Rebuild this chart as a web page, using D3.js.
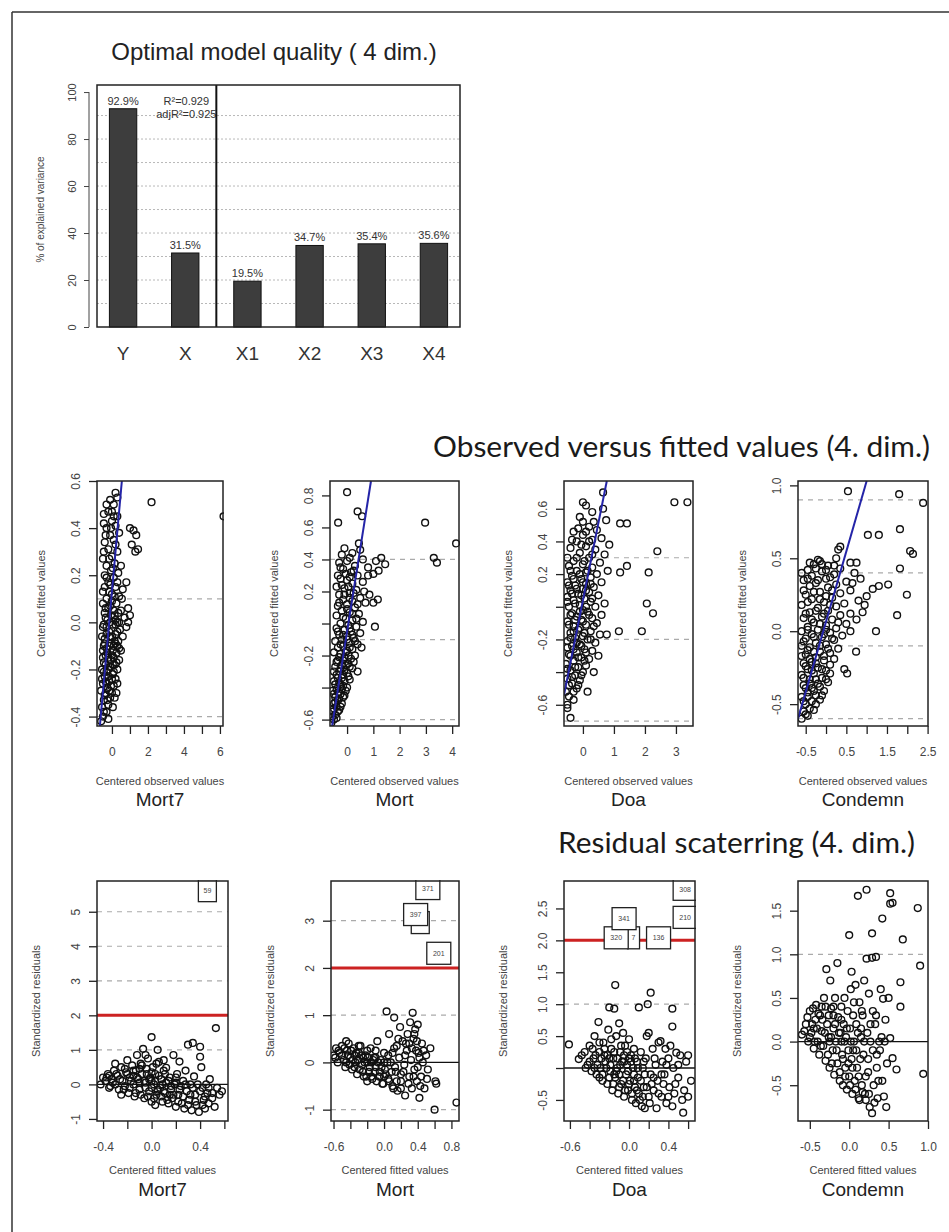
<!DOCTYPE html>
<html>
<head>
<meta charset="utf-8">
<script src="https://cdnjs.cloudflare.com/ajax/libs/d3/7.8.5/d3.min.js"></script>
<style>
body { margin: 0; background: #fff; }
svg { display: block; }
</style>
</head>
<body>
<svg id="chart" width="949" height="1232"></svg>
<script>
// ---- bar chart data
var barNames = ["Y", "X", "X1", "X2", "X3", "X4"];
var barValues = [92.9, 31.5, 19.5, 34.7, 35.4, 35.6];
var barTicks = [0, 20, 40, 60, 80, 100];
var barGrid = [10, 20, 30, 40, 50, 60, 70, 80, 90];
var fitStats = ["R²=0.929", "adjR²=0.925"];

var variables = ["Mort7", "Mort", "Doa", "Condemn"];

// ---- observed (x) versus fitted (y)
var mort7Obs = [[-0.6,-0.42],[-0.5,-0.4],[-0.3,-0.38],[-0.55,-0.36],[-0.2,-0.35],[-0.45,-0.33],[-0.1,-0.32],[-0.35,-0.3],[0.0,-0.3],[-0.6,-0.29],[-0.25,-0.28],[0.1,-0.27],[-0.5,-0.26],[-0.15,-0.25],[0.2,-0.24],[-0.4,-0.23],[0.05,-0.22],[-0.3,-0.21],[0.3,-0.2],[-0.55,-0.2],[-0.1,-0.19],[0.15,-0.18],[-0.45,-0.17],[0.4,-0.16],[-0.2,-0.15],[0.0,-0.14],[0.25,-0.13],[-0.5,-0.12],[0.5,-0.12],[-0.3,-0.11],[0.1,-0.1],[-0.05,-0.09],[0.35,-0.08],[-0.4,-0.07],[0.6,-0.06],[0.2,-0.05],[-0.15,-0.04],[0.45,-0.03],[-0.5,-0.02],[0.05,-0.01],[0.3,0.0],[-0.25,0.01],[0.7,0.02],[0.15,0.03],[-0.4,0.04],[0.5,0.05],[0.9,0.06],[-0.1,0.07],[0.25,0.08],[1.0,0.03],[0.8,-0.02],[-0.3,0.1],[0.4,0.11],[0.0,0.12],[-0.5,0.13],[0.6,0.14],[0.2,0.15],[-0.2,0.17],[0.8,0.17],[0.1,0.19],[-0.4,0.2],[0.35,0.21],[-0.05,0.22],[-0.3,0.24],[0.5,0.24],[0.15,0.25],[-0.5,0.27],[0.0,0.28],[0.3,0.3],[-0.2,0.31],[1.1,0.33],[1.3,0.3],[-0.4,0.34],[0.1,0.35],[-0.1,0.37],[0.4,0.38],[1.0,0.4],[1.2,0.39],[1.35,0.37],[-0.3,0.4],[0.2,0.41],[-0.45,0.42],[0.0,0.43],[0.3,0.45],[-0.2,0.47],[0.1,0.5],[-0.1,0.52],[0.3,0.53],[0.2,0.55],[2.2,0.51],[6.2,0.45],[1.45,0.31],[0.9,0.0],[-0.35,-0.25],[-0.05,-0.27],[0.25,-0.3],[-0.2,-0.2],[0.1,-0.15],[-0.35,-0.14],[0.3,-0.1],[-0.1,-0.06],[0.15,-0.08],[-0.3,-0.02],[0.4,0.0],[-0.05,0.03],[0.2,-0.01],[-0.45,-0.1],[0.55,0.1],[-0.15,0.13],[0.3,0.17],[-0.35,0.06],[0.05,-0.18],[-0.25,-0.33]];
var mort7ObsCore = [[-0.45,-0.38],[-0.2,-0.41],[0.05,-0.36],[-0.4,-0.31],[-0.15,-0.29],[0.15,-0.32],[-0.55,-0.24],[-0.3,-0.26],[0.0,-0.24],[0.3,-0.26],[-0.45,-0.21],[-0.2,-0.23],[0.1,-0.21],[-0.35,-0.18],[-0.05,-0.16],[0.25,-0.17],[-0.5,-0.15],[-0.25,-0.13],[0.05,-0.12],[0.4,-0.11],[-0.4,-0.09],[-0.15,-0.1],[0.2,-0.09],[-0.55,-0.06],[-0.3,-0.05],[0.0,-0.06],[0.3,-0.04],[-0.45,-0.01],[-0.1,0.0],[0.2,0.01],[-0.35,0.02],[0.1,0.05],[0.35,0.04],[-0.5,0.08],[-0.2,0.06],[0.0,0.09],[-0.4,0.15],[-0.1,0.16],[0.15,0.11],[-0.3,0.19],[0.05,0.23],[-0.45,0.3],[-0.15,0.27],[0.2,0.33],[-0.35,0.37],[-0.05,0.4],[0.1,0.45],[-0.3,0.5],[0.0,0.47],[-0.45,0.46]];
var mortObs = [[-0.6,-0.62],[-0.5,-0.6],[-0.45,-0.57],[-0.55,-0.55],[-0.3,-0.54],[-0.4,-0.52],[-0.5,-0.5],[-0.2,-0.5],[-0.35,-0.48],[-0.45,-0.46],[-0.1,-0.45],[-0.25,-0.44],[-0.55,-0.42],[-0.4,-0.41],[0.0,-0.4],[-0.15,-0.39],[-0.3,-0.37],[-0.5,-0.36],[0.1,-0.35],[-0.2,-0.34],[-0.4,-0.32],[0.0,-0.31],[-0.3,-0.3],[-0.1,-0.29],[0.2,-0.28],[-0.45,-0.27],[-0.2,-0.26],[0.05,-0.25],[-0.35,-0.23],[0.15,-0.22],[-0.1,-0.21],[0.3,-0.2],[-0.25,-0.19],[-0.5,-0.18],[0.0,-0.17],[0.2,-0.16],[-0.35,-0.15],[-0.15,-0.14],[0.4,-0.13],[0.1,-0.12],[-0.45,-0.11],[-0.2,-0.1],[0.25,-0.09],[0.0,-0.08],[-0.3,-0.07],[0.5,-0.06],[0.15,-0.05],[-0.1,-0.04],[-0.4,-0.03],[0.35,-0.02],[0.05,-0.01],[-0.25,0.0],[0.6,0.01],[0.2,0.02],[-0.05,0.03],[-0.4,0.05],[0.45,0.06],[0.1,0.07],[-0.2,0.08],[0.3,0.1],[-0.35,0.11],[0.0,0.12],[0.7,0.13],[0.2,0.14],[-0.15,0.15],[0.5,0.16],[-0.3,0.18],[0.1,0.19],[0.85,0.18],[1.0,0.13],[1.17,0.15],[0.35,0.21],[-0.1,0.22],[-0.4,0.23],[0.2,0.25],[0.6,0.26],[0.0,0.27],[-0.25,0.28],[0.4,0.3],[1.0,0.31],[1.2,0.33],[1.45,0.37],[0.15,0.32],[-0.15,0.34],[0.8,0.35],[1.1,0.39],[0.3,0.36],[-0.3,0.38],[0.0,0.39],[0.6,0.4],[1.3,0.41],[-0.2,0.43],[0.2,0.44],[0.5,0.46],[-0.1,0.47],[0.0,0.82],[-0.34,0.63],[2.97,0.63],[3.3,0.41],[3.42,0.38],[4.15,0.5],[1.06,-0.02],[0.57,0.67],[0.45,0.5],[0.4,0.7],[0.8,0.3],[0.65,0.2],[0.55,-0.15],[0.4,-0.3]];
var mortObsCore = [[-0.55,-0.58],[-0.4,-0.59],[-0.35,-0.55],[-0.5,-0.53],[-0.25,-0.52],[-0.45,-0.49],[-0.3,-0.47],[-0.15,-0.46],[-0.5,-0.44],[-0.35,-0.43],[-0.2,-0.41],[-0.05,-0.42],[-0.45,-0.38],[-0.25,-0.38],[-0.1,-0.36],[-0.35,-0.34],[0.05,-0.33],[-0.15,-0.32],[-0.5,-0.3],[-0.25,-0.28],[0.1,-0.27],[-0.05,-0.26],[-0.4,-0.24],[-0.15,-0.23],[0.25,-0.24],[0.05,-0.2],[-0.3,-0.21],[-0.05,-0.18],[0.1,-0.15],[-0.25,-0.13],[0.3,-0.11],[0.0,-0.1],[-0.15,-0.07],[0.2,-0.07],[-0.35,-0.05],[0.1,-0.03],[0.35,0.03],[-0.15,0.04],[0.2,0.06],[0.0,0.09],[-0.3,0.13],[0.4,0.12],[0.1,0.16],[-0.1,0.18],[0.25,0.19],[-0.2,0.24],[0.05,0.23],[-0.35,0.3],[0.1,0.29],[-0.05,0.31],[0.25,0.33],[-0.25,0.35],[0.1,0.41]];
var doaObs = [[-0.4,-0.68],[-0.5,-0.6],[-0.3,-0.57],[-0.55,-0.52],[-0.2,-0.5],[-0.35,-0.47],[-0.1,-0.45],[-0.5,-0.44],[-0.25,-0.42],[0.0,-0.4],[-0.4,-0.39],[-0.15,-0.37],[0.1,-0.36],[-0.55,-0.35],[-0.3,-0.33],[0.2,-0.32],[-0.05,-0.31],[-0.45,-0.29],[-0.2,-0.28],[0.3,-0.27],[0.05,-0.26],[-0.35,-0.24],[-0.1,-0.23],[0.4,-0.22],[-0.5,-0.21],[0.15,-0.2],[-0.25,-0.19],[0.0,-0.18],[0.55,-0.17],[-0.4,-0.16],[0.25,-0.15],[-0.15,-0.14],[0.77,-0.17],[1.16,-0.15],[-0.3,-0.12],[0.1,-0.11],[0.45,-0.1],[-0.5,-0.09],[-0.05,-0.08],[0.3,-0.07],[-0.2,-0.06],[0.6,-0.05],[-0.35,-0.04],[0.15,-0.03],[0.0,-0.02],[-0.45,0.0],[0.4,0.0],[-0.1,0.01],[0.7,0.02],[0.25,0.03],[-0.3,0.04],[0.05,0.05],[-0.5,0.06],[0.5,0.07],[-0.15,0.08],[0.2,0.09],[-0.4,0.1],[0.0,0.11],[0.35,0.12],[-0.25,0.13],[0.1,0.14],[-0.5,0.15],[0.6,0.15],[-0.05,0.17],[0.25,0.18],[-0.35,0.19],[0.45,0.2],[0.1,0.21],[-0.2,0.22],[0.8,0.22],[1.2,0.21],[1.42,0.25],[0.3,0.24],[-0.45,0.25],[0.0,0.26],[0.55,0.27],[-0.3,0.28],[0.2,0.3],[0.7,0.32],[-0.1,0.33],[0.4,0.35],[-0.4,0.36],[0.1,0.37],[0.85,0.38],[-0.2,0.4],[0.3,0.41],[0.6,0.42],[0.0,0.44],[-0.3,0.46],[0.45,0.47],[0.2,0.49],[1.2,0.51],[1.42,0.51],[0.75,0.53],[-0.1,0.55],[0.3,0.58],[0.65,0.6],[0.0,0.64],[0.1,0.62],[0.65,0.7],[2.95,0.64],[3.37,0.64],[2.4,0.34],[2.12,0.21],[2.06,0.02],[2.26,-0.04],[1.9,-0.15],[0.5,-0.3],[0.35,-0.4],[0.15,-0.52],[-0.5,-0.62]];
var doaObsCore = [[-0.45,-0.55],[-0.3,-0.52],[-0.45,-0.48],[-0.15,-0.48],[-0.35,-0.43],[-0.05,-0.42],[-0.5,-0.38],[-0.25,-0.37],[0.05,-0.33],[-0.4,-0.3],[-0.15,-0.31],[-0.3,-0.26],[0.1,-0.28],[-0.5,-0.25],[-0.05,-0.24],[-0.2,-0.22],[0.25,-0.2],[-0.4,-0.19],[0.05,-0.16],[-0.3,-0.15],[-0.1,-0.13],[0.35,-0.12],[-0.45,-0.11],[0.0,-0.09],[-0.25,-0.08],[0.2,-0.05],[-0.4,-0.05],[-0.1,-0.03],[0.1,0.0],[-0.25,0.02],[-0.5,0.03],[0.3,0.05],[-0.05,0.07],[-0.35,0.08],[0.1,0.1],[-0.2,0.11],[-0.45,0.13],[0.0,0.15],[0.25,0.14],[-0.3,0.17],[-0.1,0.2],[0.15,0.22],[-0.4,0.22],[0.05,0.28],[-0.2,0.3],[0.3,0.32],[-0.5,0.3],[-0.05,0.38],[0.2,0.4],[-0.35,0.41],[0.1,0.46],[-0.15,0.48],[0.35,0.52],[0.0,0.52]];
var condemnObs = [[-0.6,-0.6],[-0.45,-0.58],[-0.55,-0.55],[-0.3,-0.54],[-0.5,-0.5],[-0.35,-0.48],[-0.15,-0.47],[-0.6,-0.45],[-0.25,-0.44],[-0.45,-0.42],[-0.05,-0.41],[-0.35,-0.39],[-0.55,-0.37],[-0.2,-0.36],[0.05,-0.35],[-0.4,-0.33],[-0.1,-0.32],[-0.6,-0.3],[-0.3,-0.29],[0.1,-0.29],[0.0,-0.27],[-0.45,-0.26],[-0.2,-0.25],[0.52,-0.29],[0.45,-0.26],[-0.55,-0.22],[-0.35,-0.21],[-0.05,-0.2],[0.2,-0.19],[-0.25,-0.18],[-0.5,-0.16],[0.1,-0.15],[-0.15,-0.14],[0.74,-0.14],[0.3,-0.12],[-0.4,-0.11],[-0.6,-0.1],[0.0,-0.09],[-0.25,-0.08],[0.2,-0.06],[-0.5,-0.05],[-0.1,-0.04],[0.4,-0.03],[-0.35,-0.02],[0.1,-0.01],[-0.6,0.0],[0.6,0.0],[-0.2,0.01],[1.23,0.0],[0.25,0.02],[-0.45,0.03],[0.0,0.04],[0.5,0.05],[-0.3,0.06],[0.75,0.08],[0.15,0.08],[-0.55,0.09],[-0.1,0.1],[0.35,0.11],[0.6,0.12],[-0.4,0.13],[0.05,0.14],[0.9,0.13],[-0.2,0.16],[0.25,0.17],[-0.6,0.18],[0.45,0.19],[-0.05,0.2],[0.8,0.21],[-0.35,0.22],[0.15,0.23],[1.0,0.24],[-0.5,0.25],[0.35,0.26],[-0.15,0.27],[0.6,0.28],[1.15,0.29],[0.05,0.3],[-0.4,0.31],[1.3,0.31],[0.25,0.32],[-0.25,0.33],[0.5,0.34],[-0.55,0.35],[0.0,0.36],[0.85,0.36],[-0.35,0.38],[0.2,0.39],[0.7,0.4],[-0.1,0.41],[-0.45,0.42],[0.35,0.43],[0.05,0.45],[-0.3,0.46],[0.6,0.47],[0.75,0.47],[-0.15,0.48],[0.25,0.5],[0.3,0.56],[0.35,0.58],[1.03,0.66],[1.3,0.66],[0.54,0.96],[1.8,0.94],[2.39,0.88],[1.82,0.7],[2.07,0.55],[2.14,0.53],[1.82,0.43],[1.99,0.25],[1.53,0.32],[1.75,0.11],[0.95,0.18],[0.65,0.33]];
var condemnObsCore = [[-0.5,-0.57],[-0.4,-0.53],[-0.55,-0.48],[-0.25,-0.5],[-0.45,-0.45],[-0.1,-0.44],[-0.3,-0.41],[-0.5,-0.39],[-0.15,-0.38],[-0.4,-0.36],[0.0,-0.33],[-0.25,-0.33],[-0.55,-0.32],[-0.35,-0.27],[-0.1,-0.26],[-0.5,-0.24],[0.1,-0.23],[-0.25,-0.22],[-0.4,-0.19],[-0.05,-0.17],[-0.6,-0.17],[0.05,-0.12],[-0.3,-0.14],[-0.45,-0.13],[-0.15,-0.1],[-0.55,-0.07],[0.15,-0.05],[-0.3,-0.04],[-0.05,-0.02],[-0.45,0.01],[0.0,0.01],[-0.15,0.05],[-0.35,0.08],[0.3,0.06],[-0.05,0.12],[-0.5,0.12],[-0.25,0.14],[0.1,0.18],[-0.45,0.2],[-0.15,0.22],[-0.55,0.28],[0.0,0.24],[-0.3,0.27],[0.15,0.28],[-0.2,0.35],[-0.45,0.36],[0.1,0.37],[-0.6,0.4],[-0.25,0.43],[0.0,0.42],[-0.4,0.47],[-0.1,0.46],[0.2,0.45],[-0.2,0.49]];

// fitted regression lines, two end points each
var mort7Fit = [[-0.67, -0.44], [0.55, 0.6]];
var mortFit = [[-0.57, -0.64], [0.91, 0.89]];
var doaFit = [[-0.61, -0.54], [0.77, 0.77]];
var condemnFit = [[-0.69, -0.6], [1.0, 1.03]];

// ---- fitted (x) versus standardized residuals (y)
var mort7Res = [[-0.42,0.0],[-0.4,0.2],[-0.38,0.1],[-0.36,0.3],[-0.35,-0.1],[-0.33,0.15],[-0.31,0.4],[-0.3,0.0],[-0.28,0.25],[-0.27,-0.15],[-0.25,0.5],[-0.24,0.1],[-0.22,-0.05],[-0.21,0.35],[-0.2,0.7],[-0.19,-0.25],[-0.18,0.2],[-0.16,0.55],[-0.15,0.0],[-0.14,-0.35],[-0.13,0.4],[-0.12,0.85],[-0.11,0.15],[-0.1,-0.15],[-0.09,0.6],[-0.08,0.3],[-0.07,1.03],[-0.06,-0.4],[-0.05,0.05],[-0.04,0.45],[-0.03,0.75],[-0.02,-0.2],[-0.01,0.2],[0.0,1.37],[0.0,-0.5],[0.01,0.5],[0.02,0.0],[0.03,0.3],[0.04,-0.3],[0.05,1.0],[0.06,0.65],[0.07,-0.1],[0.08,0.15],[0.09,-0.5],[0.1,0.4],[0.11,-0.25],[0.12,0.05],[0.12,0.48],[0.14,-0.55],[0.15,0.2],[0.16,-0.15],[0.17,-0.4],[0.18,0.85],[0.19,0.0],[0.2,-0.65],[0.21,0.3],[0.22,-0.3],[0.23,0.66],[0.24,-0.05],[0.25,-0.55],[0.26,0.1],[0.27,-0.7],[0.28,0.4],[0.29,-0.2],[0.3,1.15],[0.31,-0.45],[0.32,0.0],[0.33,-0.75],[0.34,1.2],[0.35,0.23],[0.36,-0.3],[0.37,-0.6],[0.38,0.0],[0.39,-0.8],[0.4,1.09],[0.4,0.8],[0.41,0.5],[0.42,-0.1],[0.43,-0.45],[0.44,-0.7],[0.45,0.0],[0.46,-0.25],[0.47,-0.55],[0.48,0.15],[0.5,-0.4],[0.52,-0.65],[0.53,1.63],[0.54,-0.1],[0.56,-0.3],[0.58,-0.2],[-0.3,0.6],[-0.05,0.85],[-0.25,-0.3],[0.1,0.7],[0.03,-0.6],[-0.15,0.25],[-0.35,0.25],[0.0,0.1],[-0.1,0.45],[0.05,-0.2],[0.2,0.2],[0.15,-0.3]];
var mort7ResCore = [[-0.32,0.05],[-0.29,0.3],[-0.26,0.15],[-0.23,-0.15],[-0.22,0.45],[-0.2,0.3],[-0.18,-0.1],[-0.17,0.1],[-0.15,0.4],[-0.13,-0.25],[-0.12,0.2],[-0.1,0.05],[-0.09,-0.3],[-0.08,0.55],[-0.06,0.1],[-0.05,-0.1],[-0.04,0.3],[-0.03,-0.35],[-0.02,0.15],[0.0,-0.1],[0.0,0.35],[0.02,-0.4],[0.03,0.1],[0.04,0.6],[0.05,-0.15],[0.06,0.25],[0.08,-0.35],[0.09,0.0],[0.1,-0.2],[0.11,0.3],[0.13,-0.45],[0.14,0.1],[0.16,-0.05],[0.18,-0.3],[0.2,0.05],[0.22,-0.5],[0.23,-0.15],[0.26,-0.35],[0.28,0.0],[0.3,-0.6],[0.32,-0.3],[0.34,-0.1],[0.36,-0.5],[0.4,-0.2],[0.42,-0.6],[0.44,-0.35],[0.47,-0.1],[0.5,-0.25],[-0.37,0.2],[-0.34,-0.05]];
var mortRes = [[-0.6,0.15],[-0.57,0.3],[-0.55,0.0],[-0.53,0.2],[-0.5,0.35],[-0.48,0.05],[-0.46,-0.1],[-0.44,0.25],[-0.42,0.4],[-0.4,0.1],[-0.38,-0.15],[-0.36,0.3],[-0.34,0.0],[-0.32,-0.25],[-0.3,0.2],[-0.28,0.35],[-0.26,-0.05],[-0.24,-0.3],[-0.22,0.15],[-0.2,0.0],[-0.18,-0.2],[-0.16,0.3],[-0.14,-0.35],[-0.12,0.1],[-0.1,-0.1],[-0.08,0.45],[-0.06,-0.3],[-0.04,0.05],[-0.02,-0.45],[0.0,0.2],[0.01,-0.15],[0.03,1.08],[0.05,-0.35],[0.06,0.6],[0.08,0.0],[0.1,-0.5],[0.12,0.95],[0.12,0.3],[0.14,-0.2],[0.16,-0.6],[0.18,0.1],[0.19,0.75],[0.2,-0.4],[0.22,0.45],[0.24,-0.05],[0.25,-0.7],[0.27,0.25],[0.28,0.6],[0.3,-0.3],[0.31,0.85],[0.32,0.05],[0.33,-0.55],[0.34,1.05],[0.35,0.5],[0.36,-0.15],[0.37,0.7],[0.38,0.25],[0.39,-0.4],[0.4,0.8],[0.42,-0.75],[0.42,0.1],[0.44,-0.3],[0.45,0.4],[0.46,0.0],[0.48,-0.55],[0.5,0.15],[0.52,-0.15],[0.55,0.3],[0.6,-1.0],[0.61,-0.4],[0.62,-0.45],[0.86,-0.85],[-0.45,0.45],[-0.35,0.15],[-0.25,0.1],[-0.15,0.0],[-0.05,-0.2],[0.05,0.15],[0.15,0.35],[0.25,0.15],[0.35,-0.3],[0.2,-0.25],[0.1,0.2],[0.0,-0.3],[-0.1,0.25],[-0.2,-0.4],[0.3,0.4],[0.4,-0.1]];
var mortResCore = [[-0.58,0.1],[-0.54,0.25],[-0.5,0.15],[-0.47,0.3],[-0.45,0.0],[-0.43,0.15],[-0.41,-0.05],[-0.39,0.25],[-0.37,0.05],[-0.35,-0.1],[-0.33,0.2],[-0.31,0.05],[-0.29,-0.15],[-0.27,0.15],[-0.25,-0.2],[-0.23,0.0],[-0.21,-0.3],[-0.19,0.1],[-0.17,-0.1],[-0.15,-0.3],[-0.13,0.05],[-0.11,-0.2],[-0.09,-0.4],[-0.07,0.0],[-0.05,-0.3],[-0.03,-0.1],[-0.01,-0.45],[0.02,-0.25],[0.04,0.0],[0.06,-0.4],[0.09,-0.2],[0.11,-0.55],[0.13,-0.1],[0.15,-0.4],[0.17,0.5],[0.2,-0.55],[0.23,-0.2],[0.26,0.4],[0.29,-0.45],[0.33,0.3],[0.36,0.6],[0.39,0.45],[0.41,0.2],[0.43,-0.5],[0.47,0.25],[0.51,-0.35],[-0.3,0.35],[-0.2,0.25],[-0.1,0.1],[0.0,0.0]];
var doaRes = [[-0.61,0.37],[-0.51,0.14],[-0.45,0.25],[-0.42,0.05],[-0.4,0.35],[-0.38,-0.05],[-0.36,0.15],[-0.35,0.5],[-0.33,-0.1],[-0.31,0.72],[-0.3,0.25],[-0.29,0.0],[-0.27,-0.2],[-0.26,0.4],[-0.24,0.1],[-0.22,-0.25],[-0.21,0.6],[-0.2,0.95],[-0.19,-0.05],[-0.18,0.3],[-0.17,-0.35],[-0.16,0.15],[-0.15,0.93],[-0.14,1.3],[-0.14,-0.15],[-0.13,0.5],[-0.12,0.0],[-0.11,-0.4],[-0.1,0.7],[-0.09,0.25],[-0.08,-0.25],[-0.07,0.1],[-0.06,0.55],[-0.05,-0.45],[-0.04,0.35],[-0.03,-0.1],[-0.02,0.05],[-0.01,-0.35],[0.0,0.45],[0.01,-0.2],[0.02,0.2],[0.03,-0.5],[0.04,0.0],[0.05,0.3],[0.06,-0.3],[0.07,-0.55],[0.08,0.1],[0.09,-0.15],[0.1,0.95],[0.1,-0.4],[0.12,0.25],[0.13,-0.6],[0.14,0.0],[0.15,-0.3],[0.16,-0.63],[0.17,0.15],[0.18,0.5],[0.19,1.0],[0.2,-0.45],[0.2,0.55],[0.22,1.18],[0.22,-0.1],[0.24,0.3],[0.25,-0.35],[0.27,0.05],[0.28,-0.63],[0.29,-0.2],[0.3,0.4],[0.32,0.42],[0.33,-0.45],[0.34,0.1],[0.36,-0.1],[0.37,0.3],[0.38,-0.55],[0.4,0.15],[0.41,-0.3],[0.42,0.35],[0.44,0.93],[0.44,0.65],[0.44,-0.6],[0.45,0.0],[0.46,-0.4],[0.48,0.24],[0.5,-0.15],[0.52,0.2],[0.55,-0.7],[0.56,-0.35],[0.58,0.1],[0.6,-0.45],[0.63,-0.2],[-0.3,-0.15],[-0.2,0.15],[-0.1,-0.1],[0.0,0.15],[-0.25,0.2],[-0.15,-0.1],[-0.05,0.2],[0.05,-0.1],[0.15,0.1],[0.25,-0.15],[0.35,-0.25],[-0.35,0.0]];
var doaResCore = [[-0.34,0.2],[-0.32,0.05],[-0.3,0.4],[-0.28,0.15],[-0.27,-0.1],[-0.25,0.3],[-0.23,0.0],[-0.22,0.2],[-0.2,-0.15],[-0.19,0.05],[-0.18,0.45],[-0.16,-0.25],[-0.15,0.25],[-0.13,-0.05],[-0.12,0.15],[-0.1,-0.3],[-0.09,0.05],[-0.08,0.35],[-0.06,-0.2],[-0.05,0.1],[-0.04,-0.35],[-0.02,0.25],[-0.01,-0.05],[0.0,-0.25],[0.02,0.1],[0.03,-0.4],[0.05,-0.2],[0.06,0.15],[0.08,-0.35],[0.09,0.0],[0.11,-0.5],[0.12,-0.2],[0.14,-0.45],[0.16,-0.1],[0.18,-0.3],[0.21,-0.55],[0.23,-0.25],[0.26,0.15],[0.3,-0.4],[0.33,-0.1],[0.38,0.05],[0.4,-0.45],[0.47,-0.25],[0.5,0.05],[0.54,-0.5],[-0.4,0.1],[-0.37,0.3],[-0.44,0.0],[-0.48,0.2],[0.6,0.2]];
var condemnRes = [[-0.6,0.08],[-0.55,0.2],[-0.52,0.0],[-0.5,0.35],[-0.48,0.1],[-0.45,-0.08],[-0.43,0.25],[-0.42,0.42],[-0.4,0.0],[-0.38,-0.15],[-0.37,0.3],[-0.35,0.12],[-0.33,-0.05],[-0.32,0.5],[-0.3,-0.22],[-0.29,0.83],[-0.28,0.2],[-0.26,0.05],[-0.25,-0.3],[-0.24,0.7],[-0.23,0.38],[-0.21,-0.1],[-0.2,0.15],[-0.19,-0.38],[-0.18,0.5],[-0.17,0.0],[-0.15,0.9],[-0.15,-0.25],[-0.14,0.28],[-0.12,-0.45],[-0.11,0.1],[-0.1,0.4],[-0.09,-0.15],[-0.08,-0.5],[-0.07,0.2],[-0.06,0.5],[-0.05,-0.3],[-0.04,0.05],[-0.03,-0.55],[-0.02,0.35],[-0.01,-0.1],[0.0,1.22],[0.0,-0.4],[0.01,0.15],[0.02,0.6],[0.03,0.8],[0.03,-0.2],[0.04,-0.6],[0.05,0.3],[0.06,0.0],[0.07,-0.45],[0.08,0.65],[0.09,0.2],[0.1,-0.3],[0.11,1.67],[0.12,-0.65],[0.13,0.45],[0.13,-0.67],[0.15,0.05],[0.16,-0.5],[0.17,0.3],[0.18,-0.15],[0.19,0.7],[0.2,-0.6],[0.21,-0.67],[0.22,1.74],[0.22,0.95],[0.23,0.1],[0.24,-0.35],[0.25,0.55],[0.26,-0.75],[0.27,0.0],[0.29,1.24],[0.29,0.96],[0.29,-0.82],[0.3,0.35],[0.31,-0.5],[0.33,0.2],[0.34,0.97],[0.35,-0.3],[0.36,-0.65],[0.38,0.0],[0.4,0.6],[0.41,0.05],[0.42,1.41],[0.42,-0.45],[0.43,0.49],[0.44,-0.63],[0.46,0.25],[0.48,-0.25],[0.5,0.5],[0.52,1.7],[0.52,1.58],[0.55,1.59],[0.52,0.04],[0.55,-0.19],[0.6,-0.32],[0.65,0.68],[0.65,0.4],[0.68,1.17],[0.87,1.53],[0.9,0.87],[0.94,-0.37],[-0.25,0.0],[-0.35,0.4],[-0.1,0.0],[0.05,-0.1],[-0.2,0.3],[0.15,0.15],[0.35,-0.15],[-0.45,0.15]];
var condemnResCore = [[-0.57,0.12],[-0.53,0.28],[-0.5,0.05],[-0.47,0.2],[-0.46,0.38],[-0.44,0.0],[-0.41,0.15],[-0.39,0.32],[-0.36,-0.05],[-0.34,0.25],[-0.31,0.1],[-0.3,0.4],[-0.27,-0.15],[-0.26,0.3],[-0.23,0.05],[-0.22,-0.25],[-0.2,0.4],[-0.18,0.2],[-0.16,-0.1],[-0.13,0.1],[-0.12,-0.35],[-0.1,0.25],[-0.08,-0.2],[-0.06,0.0],[-0.05,-0.4],[-0.03,0.15],[-0.01,-0.25],[0.01,-0.5],[0.02,0.0],[0.04,-0.3],[0.06,0.45],[0.08,-0.55],[0.09,-0.1],[0.11,0.1],[0.12,-0.4],[0.14,-0.2],[0.16,0.35],[0.17,-0.58],[0.19,0.0],[0.21,-0.4],[0.24,-0.2],[0.25,-0.6],[0.27,0.2],[0.3,-0.1],[0.32,-0.7],[0.34,0.3],[0.37,-0.45],[0.39,-0.1],[0.45,0.0],[0.47,-0.75]];

// outlier labels: text, x, y (centre of box)
var mort7Outliers = [["59", 0.46, 5.61]];
var mortOutliers = [["371", 0.52, 3.68], ["98", 0.43, 2.96], ["397", 0.375, 3.13], ["201", 0.65, 2.31]];
var doaOutliers = [["308", 0.57, 2.8], ["210", 0.57, 2.36], ["136", 0.3, 2.04], ["7", 0.046, 2.04], ["320", -0.13, 2.04], ["341", -0.05, 2.34]];
var condemnOutliers = [];

// axis domains
var obsXDomains = [[-0.83, 6.17], [-0.65, 4.26], [-0.61, 3.55], [-0.69, 2.51]];
var obsYDomains = [[-0.44, 0.6], [-0.64, 0.89], [-0.73, 0.77], [-0.65, 1.03]];
var resXDomains = [[-0.45, 0.63], [-0.63, 0.89], [-0.66, 0.67], [-0.65, 1.0]];
var resYDomains = [[-1.06, 5.89], [-1.24, 3.84], [-0.83, 2.93], [-0.91, 1.84]];

// ticks and their labels ("" = tick without label)
var obsXTicks = [[0,1,2,3,4,5,6], [0,1,2,3,4], [0,1,2,3], [-0.5,0,0.5,1,1.5,2,2.5]];
var obsXLabels = [["0","","2","","4","","6"], ["0","1","2","3","4"], ["0","1","2","3"], ["-0.5","","0.5","","1.5","","2.5"]];
var obsYTicks = [[-0.4,-0.2,0,0.2,0.4,0.6], [-0.6,-0.4,-0.2,0,0.2,0.4,0.6,0.8], [-0.6,-0.4,-0.2,0,0.2,0.4,0.6], [-0.5,0,0.5,1.0]];
var obsYLabels = [["-0.4","-0.2","0.0","0.2","0.4","0.6"], ["-0.6","","-0.2","","0.2","0.4","0.6","0.8"], ["-0.6","","-0.2","","0.2","0.4","0.6"], ["-0.5","0.0","0.5","1.0"]];
var resXTicks = [[-0.4,-0.2,0,0.2,0.4,0.6], [-0.6,-0.4,-0.2,0,0.2,0.4,0.6,0.8], [-0.6,-0.4,-0.2,0,0.2,0.4,0.6], [-0.5,0,0.5,1.0]];
var resXLabels = [["-0.4","","0.0","","0.4",""], ["-0.6","","","0.0","","0.4","","0.8"], ["-0.6","","","0.0","","0.4",""], ["-0.5","0.0","0.5","1.0"]];
var resYTicks = [[-1,0,1,2,3,4,5], [-1,0,1,2,3], [-0.5,0,0.5,1.0,1.5,2.0,2.5], [-0.5,0,0.5,1.0,1.5]];
var resYLabels = [["-1","0","1","2","3","4","5"], ["-1","0","1","2","3"], ["-0.5","","0.5","1.0","1.5","2.0","2.5"], ["-0.5","0.0","0.5","1.0","1.5"]];

// reference lines
var obsDashes = [[0.1, -0.4], [0.4, -0.1, -0.6], [0.3, -0.2, -0.7], [0.9, 0.4, -0.1, -0.6]];
var resDashes = [[5, 4, 3, 1], [3, 1, -1], [1.0], [1.0]];
var residualLimit = 2;

var svg = d3.select("#chart");
var rFont = "'Liberation Sans', Arial, sans-serif";

// outer frame
svg.append("line").attr("x1", 12).attr("y1", 12).attr("x2", 949).attr("y2", 12)
   .attr("stroke", "#333").attr("stroke-width", 1.5);
svg.append("line").attr("x1", 12).attr("y1", 12).attr("x2", 12).attr("y2", 1232)
   .attr("stroke", "#333").attr("stroke-width", 1.5);

// ================= bar chart
function barChart()
{
    var left = 97, right = 460, top = 85, bottom = 327;
    var x = d3.scaleBand().domain(barNames).range([92, 465]).paddingInner(0.56).paddingOuter(0.28);
    var y = d3.scaleLinear().domain([0, 103]).range([bottom, top]);
    var g = svg.append("g");

    g.append("text")
     .attr("x", 274).attr("y", 60)
     .attr("text-anchor", "middle")
     .attr("font-family", rFont).attr("font-size", "24px").attr("fill", "#222")
     .text("Optimal model quality ( 4 dim.)");

    g.selectAll(".grid")
     .data(barGrid)
     .enter().append("line")
     .attr("x1", left).attr("x2", right)
     .attr("y1", function(d) { return y(d); })
     .attr("y2", function(d) { return y(d); })
     .attr("stroke", "#b8b8b8").attr("stroke-dasharray", "2,2");

    g.selectAll(".bar")
     .data(barValues)
     .enter().append("rect")
     .attr("x", function(d, i) { return x(barNames[i]); })
     .attr("y", function(d) { return y(d); })
     .attr("width", x.bandwidth())
     .attr("height", function(d) { return y(0) - y(d); })
     .attr("fill", "#3d3d3d").attr("stroke", "#111");

    g.selectAll(".val")
     .data(barValues)
     .enter().append("text")
     .attr("x", function(d, i) { return x(barNames[i]) + x.bandwidth() / 2; })
     .attr("y", function(d) { return y(d) - 4; })
     .attr("text-anchor", "middle")
     .attr("font-family", rFont).attr("font-size", "11px").attr("fill", "#333")
     .text(function(d) { return d.toFixed(1) + "%"; });

    var sep = (x("X") + x.bandwidth() + x("X1")) / 2;

    g.selectAll(".stat")
     .data(fitStats)
     .enter().append("text")
     .attr("x", sep - 30)
     .attr("y", function(d, i) { return 105 + i * 13; })
     .attr("text-anchor", "middle")
     .attr("font-family", rFont).attr("font-size", "11px").attr("fill", "#333")
     .text(function(d) { return d; });

    g.append("line").attr("x1", sep).attr("x2", sep).attr("y1", top).attr("y2", bottom)
     .attr("stroke", "#111").attr("stroke-width", 2);
    g.append("rect").attr("x", left).attr("y", top)
     .attr("width", right - left).attr("height", bottom - top)
     .attr("fill", "none").attr("stroke", "#222").attr("stroke-width", 1.5);

    var ax = g.append("g")
              .attr("transform", "translate(89,0)")
              .call(d3.axisLeft(y).tickValues(barTicks).tickSize(5).tickFormat(d3.format("d")));
    ax.select(".domain").remove();
    ax.selectAll("line").attr("stroke", "#444");
    ax.selectAll("text")
      .attr("transform", "rotate(-90)")
      .attr("x", 0).attr("y", -13).attr("dy", 0)
      .attr("text-anchor", "middle")
      .attr("font-family", rFont).attr("font-size", "11px").attr("fill", "#444");
    g.append("line").attr("x1", 89).attr("x2", 89).attr("y1", y(0)).attr("y2", y(100))
     .attr("stroke", "#444");

    g.append("text")
     .attr("transform", "translate(44," + (y(0) + y(100)) / 2 + ") rotate(-90)")
     .attr("text-anchor", "middle")
     .attr("font-family", rFont).attr("font-size", "10px").attr("fill", "#444")
     .text("% of explained variance");

    g.selectAll(".cat")
     .data(barNames)
     .enter().append("text")
     .attr("x", function(d) { return x(d) + x.bandwidth() / 2; })
     .attr("y", 360)
     .attr("text-anchor", "middle")
     .attr("font-family", rFont).attr("font-size", "19px").attr("fill", "#333")
     .text(function(d) { return d; });
}

// ================= scatter panels
function drawPanel(p)
{
    var x = d3.scaleLinear().domain(p.xDomain).range([p.left, p.right]);
    var y = d3.scaleLinear().domain(p.yDomain).range([p.bottom, p.top]);
    var g = svg.append("g");

    g.append("clipPath").attr("id", p.id)
     .append("rect")
     .attr("x", p.left).attr("y", p.top - 1)
     .attr("width", p.right - p.left + 1).attr("height", p.bottom - p.top + 1);
    var inner = g.append("g").attr("clip-path", "url(#" + p.id + ")");

    inner.selectAll(".dash")
         .data(p.dashes)
         .enter().append("line")
         .attr("x1", p.left).attr("x2", p.right)
         .attr("y1", function(d) { return y(d); })
         .attr("y2", function(d) { return y(d); })
         .attr("stroke", "#aaa").attr("stroke-width", 1.2).attr("stroke-dasharray", "5,5");

    if (p.zero)
    {
        inner.append("line").attr("x1", p.left).attr("x2", p.right)
             .attr("y1", y(0)).attr("y2", y(0))
             .attr("stroke", "#111").attr("stroke-width", 1.3);
    }

    inner.selectAll("circle")
         .data(p.points)
         .enter().append("circle")
         .attr("cx", function(d) { return x(d[0]); })
         .attr("cy", function(d) { return y(d[1]); })
         .attr("r", 3.4)
         .attr("fill", "none").attr("stroke", "#111").attr("stroke-width", 1.4);

    if (p.fit)
    {
        inner.append("line")
             .attr("x1", x(p.fit[0][0])).attr("y1", y(p.fit[0][1]))
             .attr("x2", x(p.fit[1][0])).attr("y2", y(p.fit[1][1]))
             .attr("stroke", "#2424a8").attr("stroke-width", 2);
    }

    if (p.limit != null && p.limit < p.yDomain[1])
    {
        inner.append("line").attr("x1", p.left).attr("x2", p.right)
             .attr("y1", y(p.limit)).attr("y2", y(p.limit))
             .attr("stroke", "#cc2222").attr("stroke-width", 3);
    }

    g.append("rect").attr("x", p.left).attr("y", p.top)
     .attr("width", p.right - p.left).attr("height", p.bottom - p.top)
     .attr("fill", "none").attr("stroke", "#222").attr("stroke-width", 1.5);

    // outlier labels drawn over the frame
    var lab = inner.selectAll(".lab")
                   .data(p.labels)
                   .enter().append("g")
                   .attr("transform", function(d) { return "translate(" + x(d[1]) + "," + y(d[2]) + ")"; });
    lab.append("rect")
       .attr("x", function(d) { return -(6 + d[0].length * 6) / 2; })
       .attr("y", -11)
       .attr("width", function(d) { return 6 + d[0].length * 6; })
       .attr("height", 22)
       .attr("fill", "#fff").attr("stroke", "#222").attr("stroke-width", 1.3);
    lab.append("text")
       .attr("text-anchor", "middle").attr("dy", "0.35em")
       .attr("font-family", rFont).attr("font-size", "7px").attr("fill", "#444")
       .text(function(d) { return d[0]; });

    var xa = g.append("g")
              .attr("transform", "translate(0," + p.bottom + ")")
              .call(d3.axisBottom(x).tickValues(p.xTicks).tickSize(8)
                      .tickFormat(function(d, i) { return p.xLabels[i]; }));
    xa.select(".domain").remove();
    xa.selectAll("line").attr("stroke", "#222").attr("stroke-width", 1.3);
    xa.selectAll("text")
      .attr("y", 26).attr("dy", "0.35em")
      .attr("font-family", rFont).attr("font-size", "12px").attr("fill", "#444");

    var ya = g.append("g")
              .attr("transform", "translate(" + p.left + ",0)")
              .call(d3.axisLeft(y).tickValues(p.yTicks).tickSize(8)
                      .tickFormat(function(d, i) { return p.yLabels[i]; }));
    ya.select(".domain").remove();
    ya.selectAll("line").attr("stroke", "#222").attr("stroke-width", 1.3);
    ya.selectAll("text")
      .attr("transform", "rotate(-90)")
      .attr("x", 0).attr("y", -17).attr("dy", 0)
      .attr("text-anchor", "middle")
      .attr("font-family", rFont).attr("font-size", "12px").attr("fill", "#444");

    var cx = (p.left + p.right) / 2;
    g.append("text")
     .attr("x", cx).attr("y", p.bottom + p.xTitleGap)
     .attr("text-anchor", "middle")
     .attr("font-family", rFont).attr("font-size", "11px").attr("fill", "#444")
     .text(p.xTitle);
    g.append("text")
     .attr("x", cx).attr("y", p.bottom + p.nameGap)
     .attr("text-anchor", "middle")
     .attr("font-family", rFont).attr("font-size", "19px").attr("fill", "#222")
     .text(p.name);
    g.append("text")
     .attr("transform", "translate(" + (p.left - p.yTitleGap) + "," + (p.top + p.bottom) / 2 + ") rotate(-90)")
     .attr("text-anchor", "middle")
     .attr("font-family", rFont).attr("font-size", "11px").attr("fill", "#444")
     .text(p.yTitle);
}

barChart();

// section titles
svg.append("text")
   .attr("x", 433).attr("y", 457)
   .attr("font-family", "Lato, 'Open Sans', sans-serif").attr("font-size", "28px").attr("fill", "#1a1a1a")
   .attr("textLength", 497).attr("lengthAdjust", "spacingAndGlyphs")
   .text("Observed versus fitted values (4. dim.)");
svg.append("text")
   .attr("x", 558).attr("y", 853)
   .attr("font-family", "Lato, 'Open Sans', sans-serif").attr("font-size", "28px").attr("fill", "#1a1a1a")
   .attr("textLength", 357).attr("lengthAdjust", "spacingAndGlyphs")
   .text("Residual scaterring (4. dim.)");

var obsPoints = [mort7Obs.concat(mort7ObsCore), mortObs.concat(mortObsCore), doaObs.concat(doaObsCore), condemnObs.concat(condemnObsCore)];
var obsFits = [mort7Fit, mortFit, doaFit, condemnFit];
var resPoints = [mort7Res.concat(mort7ResCore), mortRes.concat(mortResCore), doaRes.concat(doaResCore), condemnRes.concat(condemnResCore)];
var resLabels = [mort7Outliers, mortOutliers, doaOutliers, condemnOutliers];

// panel boxes (pixels)
var obsBoxes = [[97, 223], [330, 459], [564, 693], [798, 928]];
var resBoxes = [[97, 228], [331, 459], [564, 695], [798, 928]];

variables.forEach(function(name, i)
{
    drawPanel({
        id: "obs" + i, name: name,
        left: obsBoxes[i][0], right: obsBoxes[i][1], top: 481, bottom: 726,
        xDomain: obsXDomains[i], yDomain: obsYDomains[i],
        xTicks: obsXTicks[i], xLabels: obsXLabels[i],
        yTicks: obsYTicks[i], yLabels: obsYLabels[i],
        points: obsPoints[i], fit: obsFits[i], dashes: obsDashes[i],
        labels: [], zero: false, limit: null,
        xTitle: "Centered observed values", yTitle: "Centered fitted values",
        xTitleGap: 59, nameGap: 80, yTitleGap: 52
    });
    drawPanel({
        id: "res" + i, name: name,
        left: resBoxes[i][0], right: resBoxes[i][1], top: 881, bottom: 1121,
        xDomain: resXDomains[i], yDomain: resYDomains[i],
        xTicks: resXTicks[i], xLabels: resXLabels[i],
        yTicks: resYTicks[i], yLabels: resYLabels[i],
        points: resPoints[i], fit: null, dashes: resDashes[i],
        labels: resLabels[i], zero: true, limit: residualLimit,
        xTitle: "Centered fitted values", yTitle: "Standardized residuals",
        xTitleGap: 53, nameGap: 75, yTitleGap: 57
    });
});
</script>
</body>
</html>
